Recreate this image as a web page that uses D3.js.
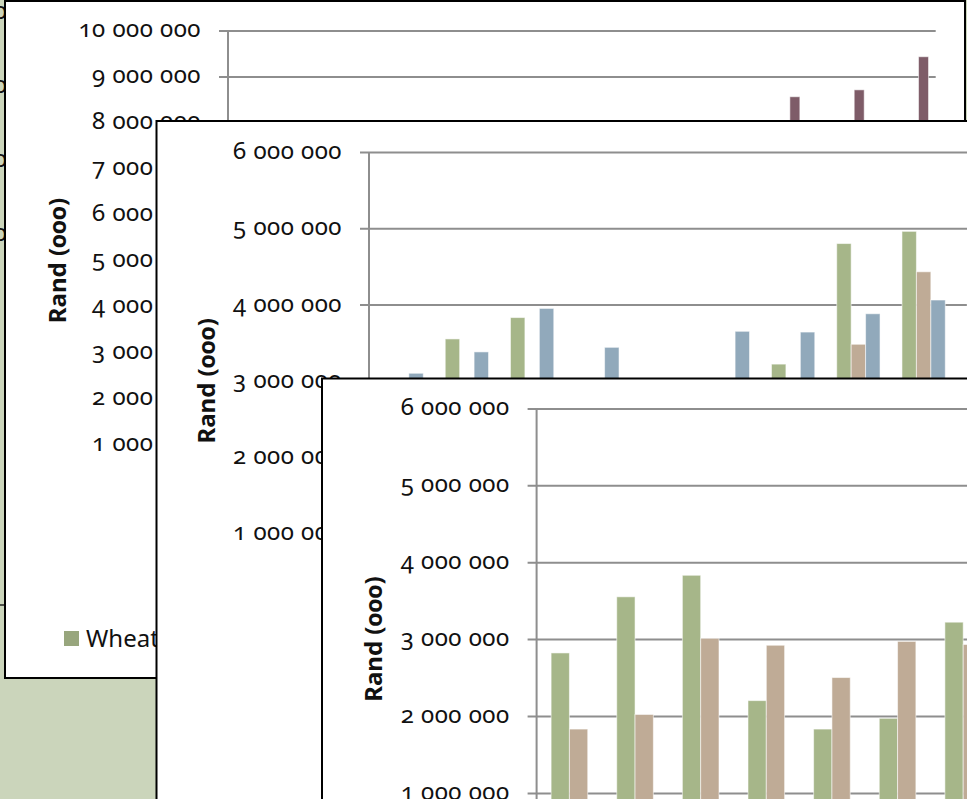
<!DOCTYPE html>
<html>
<head>
<meta charset="utf-8">
<script src="https://cdn.jsdelivr.net/npm/d3@7"></script>
<style>
  html, body { margin: 0; padding: 0; background: #cbd5bb; }
  svg { display: block; font-family: "Noto Sans", "Open Sans", sans-serif; font-variant-numeric: oldstyle-nums; font-feature-settings: "onum" 1; }
</style>
</head>
<body>
<svg id="chart" width="967" height="799"></svg>
<script>
// ---- data (Rand, thousands) ----
const seasons = ["2000", "2001", "2002", "2003", "2004", "2005", "2006", "2007", "2008", "2009", "2010"];
const wheat     = [2820000, 3550000, 3830000, 2200000, 1830000, 1970000, 3220000, 4800000, 4960000, 4500000, 4300000];
const barley    = [1830000, 2020000, 3010000, 2920000, 2500000, 2970000, 2930000, 3480000, 4430000, 4100000, 3900000];
const canola    = [3100000, 3380000, 3950000, 3440000, 2900000, 3650000, 3640000, 3880000, 4060000, 4200000, 4000000];
const sunflower = [1500000, 1900000, 2400000, 1700000, 1600000, 2100000, 2600000, 3300000, 3500000, 3100000, 2900000];
const maize     = [5200000, 6100000, 7000000, 5400000, 4900000, 5600000, 6800000, 7600000, 8560000, 8710000, 9430000];
const yTitle = "Rand (000)";
const backTicks = [5000000, 6000000, 7000000, 8000000];

const series = {
  wheat:     { name: "Wheat",     values: wheat,     color: "#a6b689" },
  barley:    { name: "Barley",    values: barley,    color: "#bfab96" },
  canola:    { name: "Canola",    values: canola,    color: "#91a9bb" },
  sunflower: { name: "Sunflower", values: sunflower, color: "#a397ad" },
  maize:     { name: "Maize",     values: maize,     color: "#7e5c68" }
};

const FS = 24;
const locale = d3.formatLocale({ decimal: ".", thousands: " ", grouping: [3], currency: ["R", ""] });
const fmt = locale.format(",");

const svg = d3.select("#chart");
svg.append("rect").attr("width", 967).attr("height", 799).attr("fill", "#cbd5bb");

// farthest card: only the tails of its value labels and its base rule show at the left edge
const yBack = d3.scaleLinear().domain([0, 8000000]).range([605, 13]);
svg.append("g").selectAll("text").data(backTicks).join("text")
  .attr("x", 7).attr("y", d => yBack(d)).attr("dy", "0.27em")
  .attr("text-anchor", "end").attr("font-size", FS).attr("fill", "#111")
  .text(d => fmt(d));
svg.append("line").attr("x1", -20).attr("x2", 6).attr("y1", yBack(0)).attr("y2", yBack(0))
  .attr("stroke", "#222").attr("stroke-width", 1.5);

function drawPanel(cfg) {
  const g = svg.append("g");
  g.append("rect")
    .attr("x", cfg.box[0]).attr("y", cfg.box[1]).attr("width", cfg.box[2]).attr("height", cfg.box[3])
    .attr("fill", "#fff").attr("stroke", "#000").attr("stroke-width", 2);

  const inner = g.append("g");
  const clipId = "clip" + cfg.id;
  g.append("clipPath").attr("id", clipId).append("rect")
    .attr("x", cfg.box[0] + 1).attr("y", cfg.box[1] + 1).attr("width", cfg.box[2] - 2).attr("height", cfg.box[3] - 2);
  inner.attr("clip-path", `url(#${clipId})`);

  const y = d3.scaleLinear().domain([0, cfg.max]).range([cfg.bottom, cfg.top]);
  const x0 = d3.scaleBand().domain(seasons).range([cfg.left, cfg.right])
    .paddingInner(cfg.pad).paddingOuter(cfg.pad / 2);
  const x1 = d3.scaleBand().domain(cfg.series.map(s => s.name)).range([0, x0.bandwidth()]);

  // value axis with full-width gridlines
  const axis = d3.axisLeft(y)
    .tickValues(d3.range(0, cfg.max + 1, 1000000))
    .tickSizeInner(-(cfg.right - cfg.left))
    .tickSizeOuter(0)
    .tickPadding(27)
    .tickFormat(fmt);
  const ax = inner.append("g").attr("transform", `translate(${cfg.left},0)`).call(axis);
  ax.attr("font-family", null).attr("font-size", null);
  ax.select(".domain").remove();
  ax.selectAll(".tick line").attr("x1", -9).attr("stroke", "#8e8e8e").attr("stroke-width", 2);
  ax.selectAll(".tick text")
    .attr("font-size", FS).attr("letter-spacing", 0.5).attr("fill", "#111")
    .attr("dy", "0.27em");

  inner.append("line")
    .attr("x1", cfg.left).attr("x2", cfg.left).attr("y1", cfg.top).attr("y2", cfg.bottom)
    .attr("stroke", "#8e8e8e").attr("stroke-width", 2);

  // bars
  cfg.series.forEach(s => {
    inner.append("g").selectAll("rect").data(s.values).join("rect")
      .attr("x", (d, i) => x0(seasons[i]) + x1(s.name))
      .attr("y", d => y(d))
      .attr("width", x1.bandwidth())
      .attr("height", d => y(0) - y(d))
      .attr("fill", s.color)
      .attr("stroke", "rgba(255,255,255,0.55)").attr("stroke-width", 1);
  });

  inner.append("line")
    .attr("x1", cfg.left).attr("x2", cfg.right).attr("y1", cfg.bottom).attr("y2", cfg.bottom)
    .attr("stroke", "#8e8e8e").attr("stroke-width", 2);

  // axis title
  inner.append("text")
    .attr("transform", `translate(${cfg.titleX},${(cfg.top + cfg.bottom) / 2}) rotate(-90)`)
    .attr("text-anchor", "middle").attr("dy", "0.35em")
    .attr("font-size", FS).attr("font-weight", "bold").attr("fill", "#111")
    .text(yTitle);

  // legend along the bottom of the card
  if (cfg.legend) {
    const lg = inner.append("g").selectAll("g").data(cfg.series).join("g")
      .attr("transform", (d, i) => `translate(${cfg.legend[0] + i * 170},${cfg.legend[1]})`);
    lg.append("rect").attr("width", 15).attr("height", 15)
      .attr("fill", d => d3.color(d.color).darker(0.25));
    lg.append("text").attr("x", 22).attr("y", 7.5).attr("dy", "0.36em")
      .attr("font-size", FS).attr("fill", "#111").text(d => d.name);
  }
}

drawPanel({
  id: 1, box: [5, 1, 960, 677],
  left: 228, right: 935.7, top: 30.5, bottom: 490.5, max: 10000000, pad: 0.223,
  series: [series.wheat, series.barley, series.canola, series.sunflower, series.maize],
  titleX: 58, legend: [64, 631]
});
drawPanel({
  id: 2, box: [156.5, 121, 900, 760],
  left: 369, right: 369 + 11 * 65.25, top: 152, bottom: 609.8, max: 6000000, pad: 0.3364,
  series: [series.wheat, series.barley, series.canola],
  titleX: 207
});
drawPanel({
  id: 3, box: [322, 378.5, 800, 600],
  left: 536.6, right: 536.6 + 11 * 65.63, top: 408.4, bottom: 869.8, max: 6000000, pad: 0.442,
  series: [series.wheat, series.barley],
  titleX: 374
});
</script>
</body>
</html>
